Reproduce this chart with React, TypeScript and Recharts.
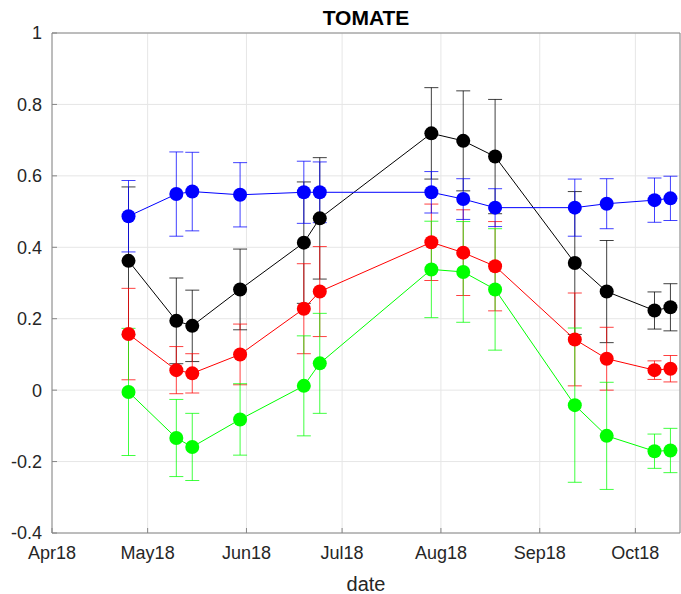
import {
  ComposedChart,
  Line,
  ErrorBar,
  XAxis,
  YAxis,
  CartesianGrid,
  ReferenceLine,
} from 'recharts'

const FONT = '"Liberation Sans", Arial, sans-serif'

const sampleDates = [
  '2018-04-25', '2018-05-10', '2018-05-15', '2018-05-30', '2018-06-19',
  '2018-06-24', '2018-07-29', '2018-08-08', '2018-08-18', '2018-09-12',
  '2018-09-22', '2018-10-07', '2018-10-12',
]

const blueValues = [0.487, 0.549, 0.556, 0.547, 0.554, 0.554, 0.554, 0.535, 0.511, 0.511, 0.522, 0.532, 0.537]
const blueErrors = [0.1, 0.118, 0.11, 0.09, 0.087, 0.085, 0.058, 0.057, 0.053, 0.08, 0.07, 0.062, 0.062]

const blackValues = [0.362, 0.194, 0.18, 0.282, 0.413, 0.481, 0.719, 0.698, 0.654, 0.356, 0.276, 0.223, 0.232]
const blackErrors = [0.207, 0.12, 0.1, 0.113, 0.17, 0.17, 0.128, 0.14, 0.16, 0.2, 0.143, 0.052, 0.066]

const redValues = [0.157, 0.056, 0.047, 0.1, 0.228, 0.276, 0.414, 0.385, 0.347, 0.142, 0.088, 0.056, 0.06]
const redErrors = [0.128, 0.066, 0.055, 0.085, 0.126, 0.126, 0.107, 0.12, 0.125, 0.13, 0.088, 0.026, 0.037]

const greenValues = [-0.005, -0.134, -0.159, -0.082, 0.012, 0.075, 0.338, 0.331, 0.282, -0.042, -0.128, -0.171, -0.169]
const greenErrors = [0.178, 0.108, 0.094, 0.1, 0.14, 0.14, 0.135, 0.141, 0.17, 0.216, 0.15, 0.048, 0.062]

const monthTicks = ['2018-04-01', '2018-05-01', '2018-06-01', '2018-07-01', '2018-08-01', '2018-09-01', '2018-10-01']
const monthLabels = ['Apr18', 'May18', 'Jun18', 'Jul18', 'Aug18', 'Sep18', 'Oct18']
const axisEnd = '2018-10-15'
const yTicks = [-0.4, -0.2, 0, 0.2, 0.4, 0.6, 0.8, 1]

// days since 1 Apr 2018
const dayOf = (s: string) =>
  Math.round((Date.parse(s + 'T00:00:00Z') - Date.parse('2018-04-01T00:00:00Z')) / 86400000)

const data = sampleDates.map((d, i) => ({
  day: dayOf(d),
  blue: blueValues[i],
  blueErr: blueErrors[i],
  black: blackValues[i],
  blackErr: blackErrors[i],
  red: redValues[i],
  redErr: redErrors[i],
  green: greenValues[i],
  greenErr: greenErrors[i],
}))

const tickDays = monthTicks.map(dayOf)
const endDay = dayOf(axisEnd)

const series = [
  { key: 'black', color: '#000000' },
  { key: 'red', color: '#ff0000' },
  { key: 'green', color: '#00ff00' },
  { key: 'blue', color: '#0000ff' },
]

const axisColor = '#868686'
const textColor = '#262626'

export default function App() {
  return (
    <div style={{ position: 'absolute', left: 0, top: 0, width: 681, height: 594, background: '#fff' }}>
      <div
        style={{
          position: 'absolute',
          left: 52,
          width: 628,
          top: 6,
          textAlign: 'center',
          fontFamily: FONT,
          fontWeight: 'bold',
          fontSize: 21,
          color: '#000',
        }}
      >
        TOMATE
      </div>
      <ComposedChart
        width={681}
        height={594}
        data={data}
        margin={{ top: 33, right: 1, bottom: 0, left: 0 }}
      >
        <CartesianGrid stroke="#e6e6e6" strokeWidth={1} />
        <XAxis
          dataKey="day"
          type="number"
          domain={[0, endDay]}
          ticks={tickDays}
          tickFormatter={(v: number) => monthLabels[tickDays.indexOf(v)] ?? ''}
          stroke={axisColor}
          tickSize={-5}
          tickMargin={18}
          height={61}
          tick={{ fontSize: 18, fill: textColor, fontFamily: FONT }}
          label={{
            value: 'date',
            position: 'insideBottom',
            offset: 3,
            fontSize: 20,
            fill: textColor,
            fontFamily: FONT,
          }}
        />
        <YAxis
          type="number"
          domain={[-0.4, 1]}
          ticks={yTicks}
          allowDataOverflow
          tickFormatter={(v: number) => String(Number(v.toFixed(1)))}
          stroke={axisColor}
          tickSize={-5}
          tickMargin={15}
          width={52}
          tick={{ fontSize: 18, fill: textColor, fontFamily: FONT }}
        />
        <ReferenceLine y={1} stroke={axisColor} />
        <ReferenceLine x={endDay} stroke={axisColor} />
        {series.map((s) => (
          <Line
            key={s.key}
            dataKey={s.key}
            stroke={s.color}
            strokeWidth={1}
            type="linear"
            isAnimationActive={false}
            dot={{ r: 7, fill: s.color, stroke: 'none' }}
            activeDot={false}
          >
            <ErrorBar
              dataKey={s.key + 'Err'}
              direction="y"
              width={7}
              stroke={s.color}
              strokeWidth={1}
              strokeOpacity={0.75}
            />
          </Line>
        ))}
      </ComposedChart>
    </div>
  )
}
